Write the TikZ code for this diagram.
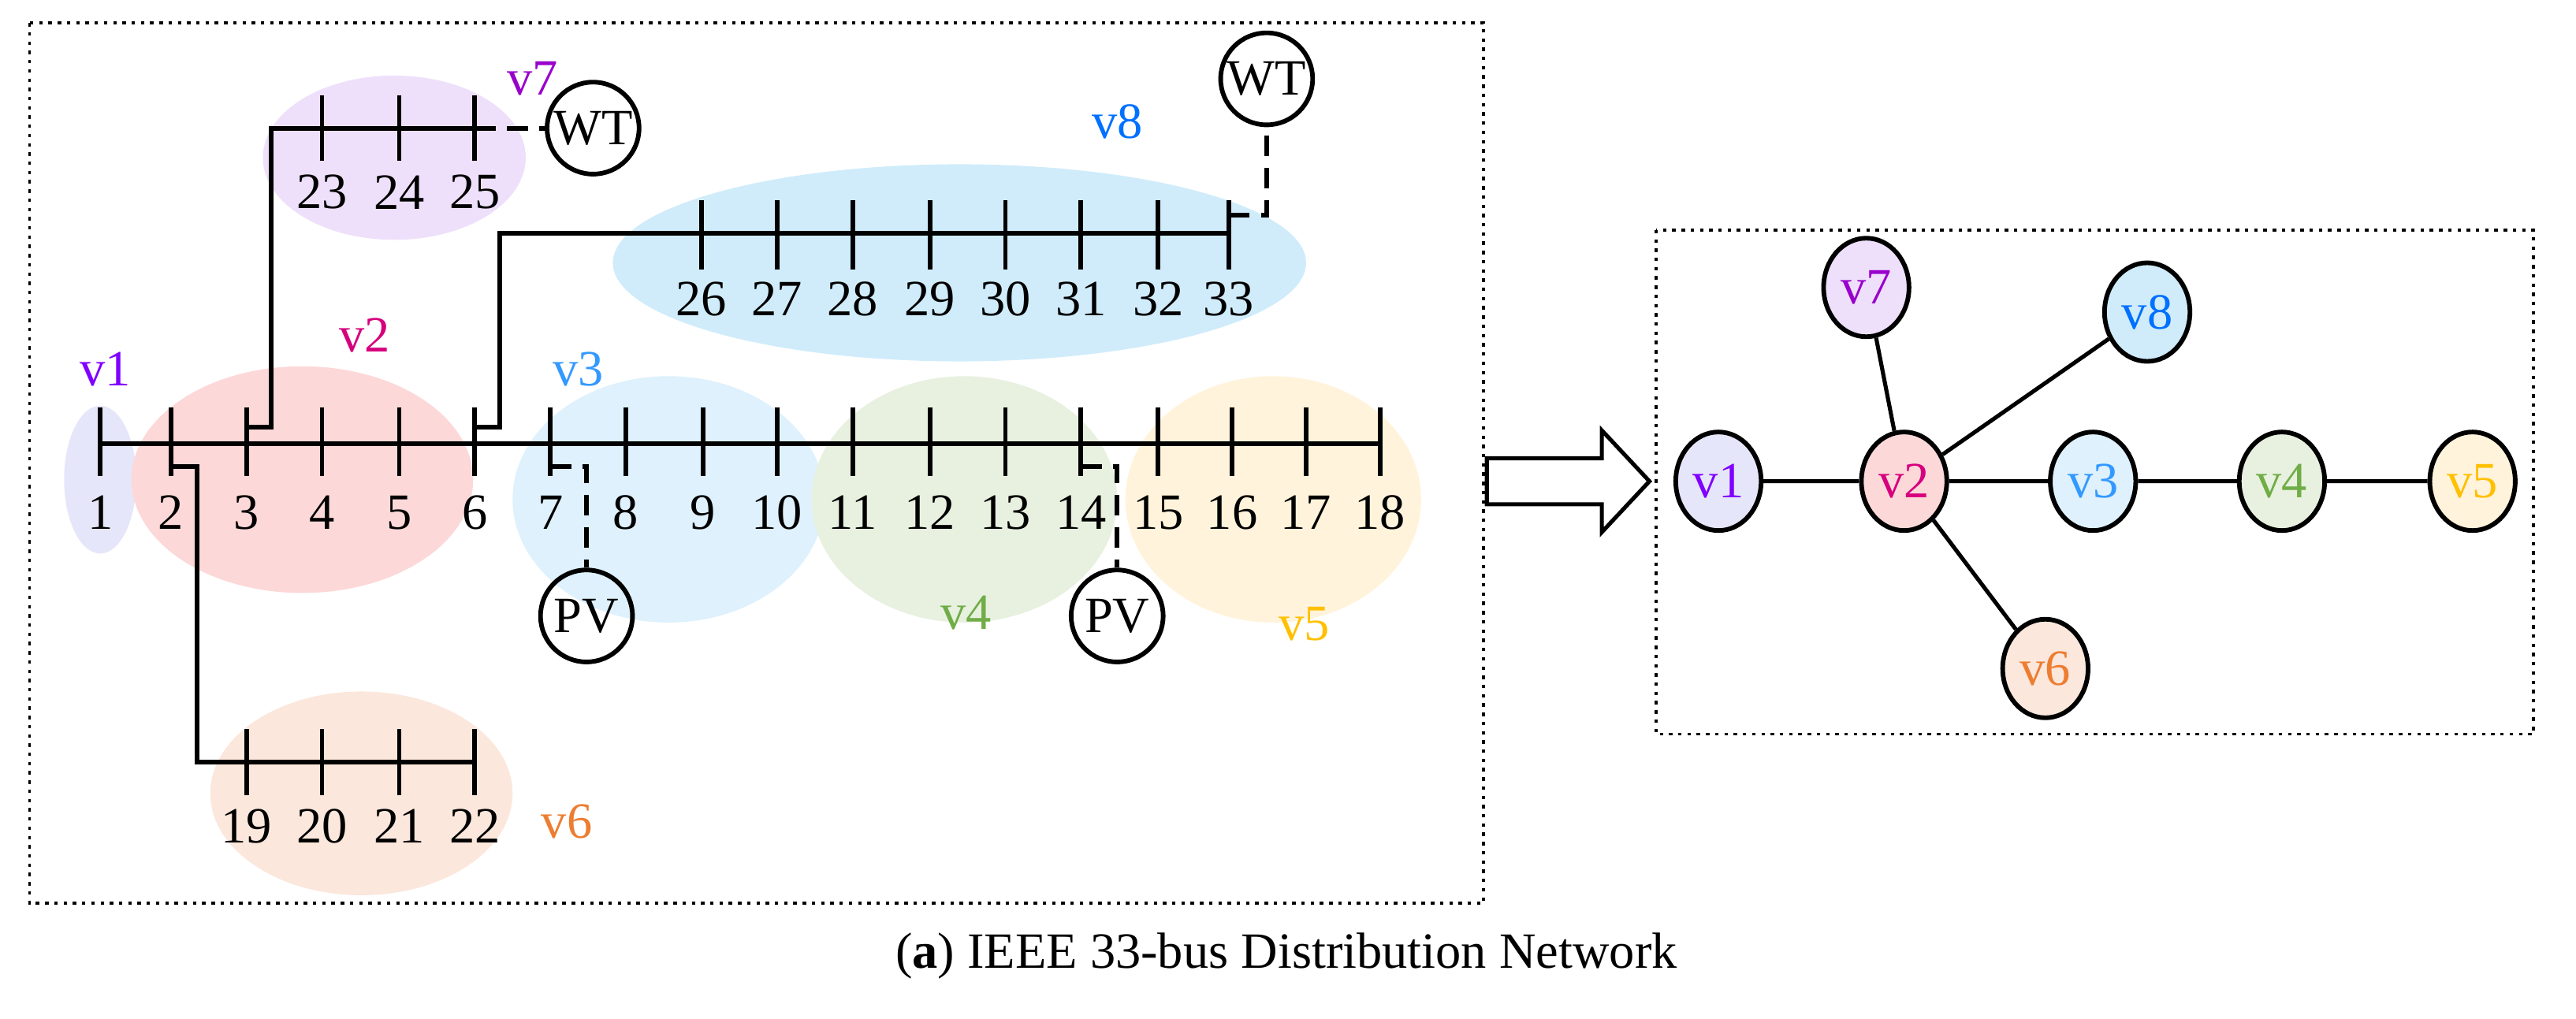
\documentclass[tikz,border=0pt]{standalone}
\usepackage{fontspec}
\setmainfont{Liberation Serif}
\usetikzlibrary{shapes.geometric}
\definecolor{c1}{HTML}{E6E6FA}\definecolor{t1}{HTML}{7F00FF}
\definecolor{c2}{HTML}{FDD8D8}\definecolor{t2}{HTML}{D6007E}
\definecolor{c3}{HTML}{DEF1FC}\definecolor{t3}{HTML}{3399FF}
\definecolor{c4}{HTML}{E8F1E0}\definecolor{t4}{HTML}{70AD47}
\definecolor{c5}{HTML}{FFF3DB}\definecolor{t5}{HTML}{FFC000}
\definecolor{c6}{HTML}{FBE7DC}\definecolor{t6}{HTML}{ED7D31}
\definecolor{c7}{HTML}{EEE0FA}\definecolor{t7}{HTML}{9900CC}
\definecolor{c8}{HTML}{D0ECFB}\definecolor{t8}{HTML}{0070FF}
\begin{document}
\begin{tikzpicture}[x=0.05cm,y=-0.05cm,
  font=\fontsize{44}{48}\selectfont,
  bus/.style={line width=4pt},
  dsh/.style={line width=4pt,dash pattern=on 18pt off 10pt},
  box/.style={line width=2.5pt,dash pattern=on 3pt off 5pt},
  gen/.style={circle,draw,line width=4pt,minimum size=2.8cm,inner sep=0pt},
  gn/.style={ellipse,draw,line width=4pt,minimum width=2.6cm,minimum height=3cm,inner sep=0pt},
  num/.style={inner sep=0pt}]
\useasboundingbox (0,0) rectangle (1568,620);
% clusters
\fill[c8] (584,160) ellipse [x radius=211,y radius=60];
\fill[c7] (240,96) ellipse [x radius=80,y radius=50];
\fill[c1] (61,292) ellipse [x radius=22,y radius=45];
\fill[c2] (184,292) ellipse [x radius=104,y radius=69];
\fill[c3] (407,304) ellipse [x radius=95,y radius=75];
\fill[c4] (587,304) ellipse [x radius=93,y radius=75];
\fill[c5] (775,304) ellipse [x radius=90,y radius=75];
\fill[c6] (220,483) ellipse [x radius=92,y radius=62];
% cluster labels
\node[text=t1] (l1) at (64,225) {v1};
\node[text=t2] (l2) at (222,204) {v2};
\node[text=t3] (l3) at (352,225) {v3};
\node[text=t4] (l4) at (588,373) {v4};
\node[text=t5] (l5) at (794,380) {v5};
\node[text=t6] (l6) at (345,500) {v6};
\node[text=t7] (l7) at (324,48) {v7};
\node[text=t8] (l8) at (680,74) {v8};
% main feeder
\foreach \i/\x in {1/61,2/104,3/150,4/196,5/243,6/289,7/335,8/381,9/428,10/473,11/519,12/566,13/612,14/658,15/705,16/750,17/795,18/840}{
  \coordinate (b\i) at (\x,270);
  \draw[bus] (\x,248) -- (\x,290);
  \node[num] (n\i) at (\x,312) {\i};}
\draw[bus] (b1) -- (b18);
% branch 23-25
\foreach \i/\x in {23/196,24/243,25/289}{
  \coordinate (b\i) at (\x,78);
  \draw[bus] (\x,58) -- (\x,98);
  \node[num] (n\i) at (\x,117) {\i};}
\draw[bus] (150,260) -| (165,78) -- (b25);
% branch 26-33
\foreach \i/\x in {26/427,27/473,28/519,29/566,30/612,31/658,32/705,33/748}{
  \coordinate (b\i) at (\x,142);
  \draw[bus] (\x,122) -- (\x,164);
  \node[num] (n\i) at (\x,182) {\i};}
\draw[bus] (289,260) -| (304,142) -- (b33);
% branch 19-22
\foreach \i/\x in {19/150,20/196,21/243,22/289}{
  \coordinate (b\i) at (\x,464);
  \draw[bus] (\x,444) -- (\x,484);
  \node[num] (n\i) at (\x,503) {\i};}
\draw[bus] (104,284) -| (120,464) -- (b22);
% generators
\node[gen] (wt1) at (361,78) {WT};
\node[gen] (wt2) at (771,48) {WT};
\node[gen] (pv1) at (357,375) {PV};
\node[gen] (pv2) at (680,375) {PV};
\draw[dsh] (b25) -- (wt1);
\draw[dsh] (748,131) -| (wt2);
\draw[dsh] (335,284) -| (pv1);
\draw[dsh] (658,284) -| (pv2);
% boxes
\draw[box] (18,14) rectangle (903,550);
\draw[box] (1008,140) rectangle (1542,447);
% arrow
\draw[line width=3.5pt,line join=miter] (905,279) -- (975,279) -- (975,262) -- (1004,293) -- (975,324) -- (975,307) -- (905,307) -- cycle;
% graph
\node[gn,fill=c1,text=t1] (g1) at (1046,293) {v1};
\node[gn,fill=c2,text=t2] (g2) at (1159,293) {v2};
\node[gn,fill=c3,text=t3] (g3) at (1274,293) {v3};
\node[gn,fill=c4,text=t4] (g4) at (1389,293) {v4};
\node[gn,fill=c5,text=t5] (g5) at (1505,293) {v5};
\node[gn,fill=c7,text=t7] (g7) at (1136,175) {v7};
\node[gn,fill=c8,text=t8] (g8) at (1307,190) {v8};
\node[gn,fill=c6,text=t6] (g6) at (1245,407) {v6};
\draw[line width=3.5pt] (g1)--(g2) (g2)--(g3) (g3)--(g4) (g4)--(g5) (g2)--(g7) (g2)--(g8) (g2)--(g6);
\node (cap) at (783,582) {(\textbf{a}) IEEE 33-bus Distribution Network};
\end{tikzpicture}
\end{document}
